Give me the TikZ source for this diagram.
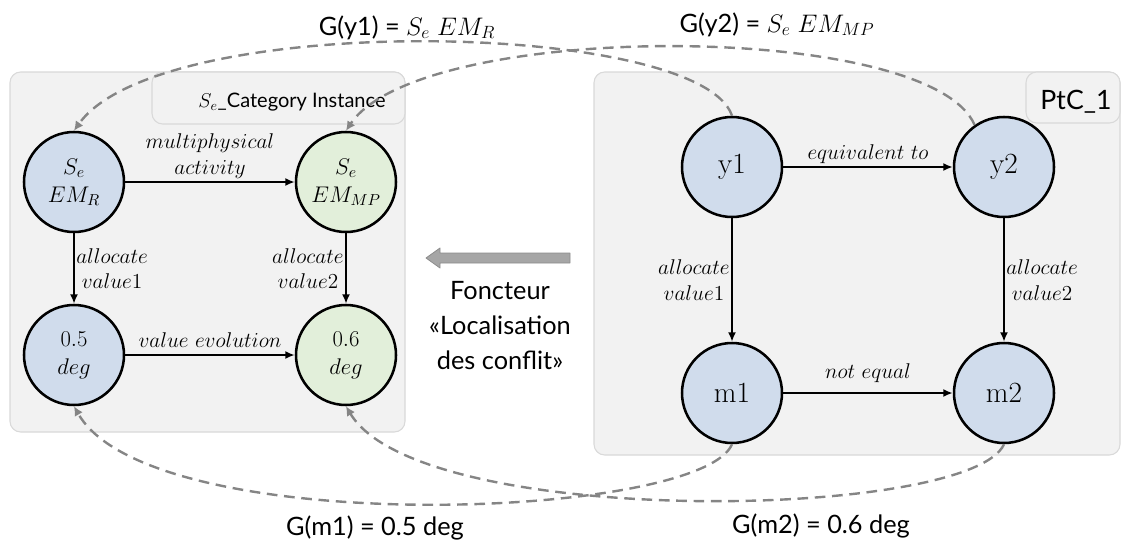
\RequirePackage{fix-cm}
\documentclass[tikz,border=0pt]{standalone}
\usepackage{fontspec}
\setsansfont{Lato}
\usetikzlibrary{arrows.meta}
\definecolor{Pfill}{HTML}{F2F2F2}
\definecolor{Pline}{HTML}{D9D9D9}
\definecolor{Bfill}{HTML}{D0DCEC}
\definecolor{Gfill}{HTML}{E2EFDA}
\definecolor{Dline}{HTML}{858585}
\definecolor{Afill}{HTML}{A6A6A6}
\definecolor{Aline}{HTML}{8C8C8C}

\begin{document}
\begin{tikzpicture}[x=0.75pt,y=-0.75pt,line join=round,
  obj/.style={circle,draw=black,line width=1.9pt,minimum size=75pt,inner sep=0pt,align=center},
  blueobj/.style={obj,fill=Bfill},
  greenobj/.style={obj,fill=Gfill},
  arr/.style={line width=1.4pt,-{Latex[length=7pt,width=6pt]}},
  lbl/.style={font=\fontsize{16}{19}\selectfont,align=center,inner sep=2pt},
  fmap/.style={Dline,line width=1.8pt,dash pattern=on 8pt off 5pt,-{Latex[length=7pt,width=7pt]}},
  panel/.style={draw=Pline,fill=Pfill,line width=0.8pt,rounded corners=8pt},
  big/.style={font=\sffamily\fontsize{19}{26}\selectfont}]
\useasboundingbox (0,0) rectangle (1123,539);

% ---- the two panels ----
\draw[panel] (10,72) rectangle (405,432);
\draw[panel] (152,72) rectangle (405,124);
\node[font=\sffamily\fontsize{15}{18}\selectfont,anchor=base] (cattitle) at (292,107) {$S_e$\_Category Instance};
\draw[panel] (594,72) rectangle (1120,455);
\draw[panel] (1026,72) rectangle (1120,123);
\node[font=\sffamily\fontsize{20}{24}\selectfont,anchor=base] (ptctitle) at (1076,109) {PtC\_1};

% ---- category instance ----
\node[blueobj,font=\fontsize{17}{21}\selectfont] (emr) at (74,182) {$S_e$\\$EM_R$};
\node[greenobj,font=\fontsize{17}{21}\selectfont] (emmp) at (346,182) {$S_e$\\$EM_{MP}$};
\node[blueobj,font=\fontsize{17}{21}\selectfont] (v05) at (74,355) {$0.5$\\$deg$};
\node[greenobj,font=\fontsize{17}{21}\selectfont] (v06) at (346,355) {$0.6$\\$deg$};
\draw[arr] (emr) -- node[lbl,above] (lmulti) {$multiphysical$\\$activity$} (emmp);
\draw[arr] (emr) -- node[lbl,right,inner sep=1pt] (lalloc1) {$allocate$\\$value1$} (v05);
\draw[arr] (emmp) -- node[lbl,left,inner sep=1pt] (lalloc2) {$allocate$\\$value2$} (v06);
\draw[arr] (v05) -- node[lbl,above,yshift=3pt] (levol) {$value\ evolution$} (v06);

% ---- PtC_1 ----
\node[blueobj,font=\fontsize{22}{26}\selectfont] (y1) at (732,167) {y1};
\node[blueobj,font=\fontsize{22}{26}\selectfont] (y2) at (1004,167) {y2};
\node[blueobj,font=\fontsize{22}{26}\selectfont] (m1) at (732,393) {m1};
\node[blueobj,font=\fontsize{22}{26}\selectfont] (m2) at (1004,393) {m2};
\draw[arr] (y1) -- node[lbl,above] (requiv) {$equivalent\ to$} (y2);
\draw[arr] (y1) -- node[lbl,left,inner sep=1pt] (ralloc1) {$allocate$\\$value1$} (m1);
\draw[arr] (y2) -- node[lbl,right,inner sep=1pt] (ralloc2) {$allocate$\\$value2$} (m2);
\draw[arr] (m1) -- node[lbl,above,yshift=5pt] (rneq) {$not\ equal$} (m2);

% ---- functor ----
\draw[Aline,fill=Afill,line width=0.6pt] (426,258) -- (440,248) -- (440,253) -- (570,253)
  -- (570,263) -- (440,263) -- (440,268) -- cycle;
\node[big,align=center,anchor=base] (functor) at (500,369) {Foncteur\\«Localisation\\des conflit»};

% ---- images under G ----
\draw[fmap] (y1.north) .. controls (700,20) and (160,10) .. (emr.north);
\draw[fmap] (y2.125) .. controls (930,20) and (420,20) .. (emmp.north);
\draw[fmap] (m1.south) .. controls (700,520) and (150,540) .. (v05.south);
\draw[fmap] (m2.south) .. controls (970,520) and (420,530) .. (v06.south);
\node[big,anchor=base] (gy1) at (407,35) {G(y1) = $S_e\;EM_R$};
\node[big,anchor=base] (gy2) at (777,32) {G(y2) = $S_e\;EM_{MP}$};
\node[big,anchor=base] (gm1) at (375,535) {G(m1) = 0.5 deg};
\node[big,anchor=base] (gm2) at (821,533) {G(m2) = 0.6 deg};
\end{tikzpicture}
\end{document}
